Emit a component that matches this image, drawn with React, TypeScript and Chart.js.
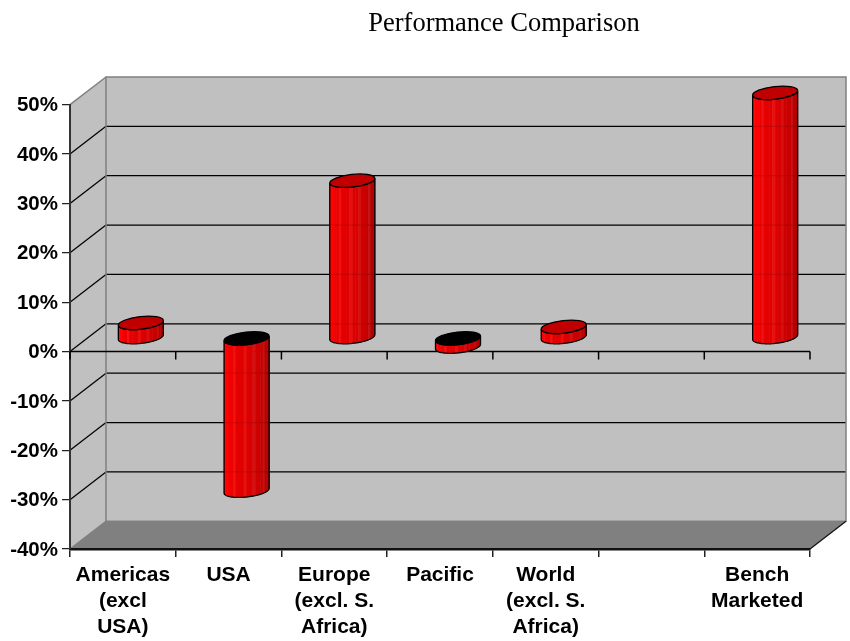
import { useEffect, useRef } from "react";
import { Chart, registerables } from "chart.js";

Chart.register(...registerables);

const categories = [
  ["Americas", "(excl", "USA)"],
  "USA",
  ["Europe", "(excl. S.", "Africa)"],
  "Pacific",
  ["World", "(excl. S.", "Africa)"],
  "",
  ["Bench", "Marketed"],
];
const returns = [3, -31, 31.8, -1.8, 2.2, null, 49.6];
const yMin = -40;
const yMax = 50;
const yStep = 10;

// Oblique projection of the plot box
const DEPTH_X = 36;
const DEPTH_Y = 27.7;
const TILT = (-6.4 * Math.PI) / 180;
const CAP_RY = 6.3;

const WALL = "#c0c0c0";
const FLOOR = "#808080";
const EDGE = "#808080";
const FACETS = [
  "#d80000", "#ee0000", "#ff0808", "#ff0000", "#f80000", "#f40000", "#ea0000", "#f01010",
  "#e40000", "#e20000", "#e00000", "#e61010", "#dc0000", "#d80000", "#d61010", "#d00000",
  "#ca0000", "#c60000", "#c41010", "#bc0000", "#b40000", "#ae0000", "#a80000", "#a40808",
];

function line(ctx: CanvasRenderingContext2D, x1: number, y1: number, x2: number, y2: number) {
  ctx.beginPath();
  ctx.moveTo(x1, y1);
  ctx.lineTo(x2, y2);
  ctx.stroke();
}

function drawWallGrid(chart: any, colour: string) {
  const { ctx, chartArea, scales } = chart;
  ctx.strokeStyle = colour;
  ctx.lineWidth = 1.25;
  for (let v = yMin + yStep; v < yMax; v += yStep) {
    const y = scales.y.getPixelForValue(v);
    line(ctx, chartArea.left, y, chartArea.left + DEPTH_X, y - DEPTH_Y);
    line(ctx, chartArea.left + DEPTH_X, y - DEPTH_Y, chartArea.right + DEPTH_X, y - DEPTH_Y);
  }
}

// Walls and floor sit behind the axes
const boxWalls = {
  id: "boxWalls",
  beforeDraw(chart: any) {
    const { ctx, chartArea: a } = chart;
    const dx = DEPTH_X;
    const dy = DEPTH_Y;
    ctx.save();
    ctx.fillStyle = WALL;
    ctx.fillRect(a.left + dx, a.top - dy, a.right - a.left, a.bottom - a.top);
    ctx.beginPath();
    ctx.moveTo(a.left, a.top);
    ctx.lineTo(a.left + dx, a.top - dy);
    ctx.lineTo(a.left + dx, a.bottom - dy);
    ctx.lineTo(a.left, a.bottom);
    ctx.closePath();
    ctx.fill();
    ctx.fillStyle = FLOOR;
    ctx.beginPath();
    ctx.moveTo(a.left, a.bottom);
    ctx.lineTo(a.left + dx, a.bottom - dy);
    ctx.lineTo(a.right + dx, a.bottom - dy);
    ctx.lineTo(a.right, a.bottom);
    ctx.closePath();
    ctx.fill();

    drawWallGrid(chart, "#000000");

    ctx.strokeStyle = EDGE;
    ctx.lineWidth = 1.5;
    ctx.strokeRect(a.left + dx, a.top - dy, a.right - a.left, a.bottom - a.top);
    line(ctx, a.left, a.top, a.left + dx, a.top - dy);
    line(ctx, a.left, a.bottom, a.left + dx, a.bottom - dy);
    ctx.strokeStyle = "#111111";
    ctx.lineWidth = 1.25;
    line(ctx, a.right, a.bottom, a.right + dx, a.bottom - dy);
    ctx.restore();
  },
};

function capPoint(cx: number, cy: number, rx: number, t: number) {
  return {
    x: cx + rx * Math.cos(t) * Math.cos(TILT) - CAP_RY * Math.sin(t) * Math.sin(TILT),
    y: cy + rx * Math.cos(t) * Math.sin(TILT) + CAP_RY * Math.sin(t) * Math.cos(TILT),
  };
}

// Zero line with its ticks, then one cylinder per bar element
const cylinders = {
  id: "cylinders",
  afterDatasetsDraw(chart: any) {
    const { ctx, chartArea: a, scales } = chart;
    const zero = scales.y.getPixelForValue(0);
    ctx.save();
    ctx.strokeStyle = "#000000";
    ctx.lineWidth = 1.5;
    line(ctx, a.left, zero, a.right, zero);
    const slot = (a.right - a.left) / categories.length;
    for (let i = 0; i <= categories.length; i++) {
      line(ctx, a.left + i * slot, zero, a.left + i * slot, zero + 8);
    }

    chart.getDatasetMeta(0).data.forEach((bar: any, i: number) => {
      const value = returns[i];
      if (value === null) return;
      const cx = bar.x + DEPTH_X / 2;
      const top = Math.min(bar.y, bar.base) - DEPTH_Y / 2;
      const bottom = Math.max(bar.y, bar.base) - DEPTH_Y / 2;
      const rx = bar.width / 2 / Math.cos(TILT);
      const t0 = Math.atan2(-CAP_RY * Math.sin(TILT), rx * Math.cos(TILT));

      const body = new Path2D();
      const steps = 48;
      for (let s = 0; s <= steps; s++) {
        const p = capPoint(cx, bottom, rx, t0 + (Math.PI * s) / steps);
        if (s === 0) body.moveTo(p.x, p.y);
        else body.lineTo(p.x, p.y);
      }
      for (let s = steps; s >= 0; s--) {
        const p = capPoint(cx, top, rx, t0 + (Math.PI * s) / steps);
        body.lineTo(p.x, p.y);
      }
      body.closePath();

      FACETS.forEach((colour, f) => {
        const t1 = t0 + Math.PI - (Math.PI * f) / FACETS.length;
        const t2 = t0 + Math.PI - (Math.PI * (f + 1)) / FACETS.length;
        const p1 = capPoint(cx, top, rx, t1);
        const p2 = capPoint(cx, top, rx, t2);
        const q2 = capPoint(cx, bottom, rx, t2);
        const q1 = capPoint(cx, bottom, rx, t1);
        ctx.fillStyle = colour;
        ctx.beginPath();
        ctx.moveTo(p1.x, p1.y);
        ctx.lineTo(p2.x + 0.5, p2.y);
        ctx.lineTo(q2.x + 0.5, q2.y);
        ctx.lineTo(q1.x, q1.y);
        ctx.closePath();
        ctx.fill();
      });

      ctx.save();
      ctx.clip(body);
      drawWallGrid(chart, "rgba(0,0,0,0.1)");
      ctx.restore();

      ctx.strokeStyle = "#000000";
      ctx.lineWidth = 1.3;
      ctx.stroke(body);
      ctx.fillStyle = value < 0 ? "#000000" : "#c00000";
      ctx.beginPath();
      ctx.ellipse(cx, top, rx, CAP_RY, TILT, 0, Math.PI * 2);
      ctx.fill();
      ctx.stroke();
    });
    ctx.restore();
  },
};

// The heading is centred over the right-hand part of the page
const titlePlacement = {
  id: "titlePlacement",
  afterLayout(chart: any) {
    chart.titleBlock.left = 158;
    chart.titleBlock.right = 850;
  },
};

export default function App() {
  const canvasRef = useRef<HTMLCanvasElement>(null);

  useEffect(() => {
    const chart = new Chart(canvasRef.current as HTMLCanvasElement, {
      type: "bar",
      data: {
        labels: categories as any,
        datasets: [
          {
            data: returns as any,
            backgroundColor: "transparent",
            borderWidth: 0,
            categoryPercentage: 1,
            barPercentage: 0.4257,
          },
        ],
      },
      plugins: [boxWalls, cylinders, titlePlacement],
      options: {
        responsive: false,
        animation: false,
        layout: { padding: { left: 0, right: 40, top: 0, bottom: 0 } },
        plugins: {
          legend: { display: false },
          tooltip: { enabled: false },
          title: {
            display: true,
            text: "Performance Comparison",
            color: "#000000",
            font: { family: "'Liberation Serif'", size: 26.5, weight: "normal", lineHeight: 1.2 },
            padding: { top: 8, bottom: 64.9 },
          },
        },
        scales: {
          x: {
            afterFit(s: any) {
              s.height = 92;
            },
            grid: { drawOnChartArea: false, drawTicks: true, tickLength: 8, color: "#222222", lineWidth: 1.5 },
            border: { color: "#111111", width: 2.5 },
            ticks: {
              color: "#000000",
              autoSkip: false,
              maxRotation: 0,
              minRotation: 0,
              padding: 5,
              font: { family: "'Liberation Sans'", size: 21, weight: "bold", lineHeight: 1.25 },
            },
          },
          y: {
            min: yMin,
            max: yMax,
            afterFit(s: any) {
              s.width = 70;
            },
            grid: { drawOnChartArea: false, drawTicks: true, tickLength: 8, color: "#222222", lineWidth: 1.25 },
            border: { color: "#333333", width: 2 },
            ticks: {
              stepSize: yStep,
              color: "#000000",
              padding: 4,
              labelOffset: 1,
              font: { family: "'Liberation Sans'", size: 20.5, weight: "bold" },
              callback: (v: any) => `${v}%`,
            },
          },
        },
      } as any,
    });
    return () => chart.destroy();
  }, []);

  return (
    <div style={{ position: "absolute", left: 0, top: 0, width: 850, height: 641, background: "#ffffff" }}>
      <canvas ref={canvasRef} width={850} height={641} style={{ display: "block" }} />
    </div>
  );
}
